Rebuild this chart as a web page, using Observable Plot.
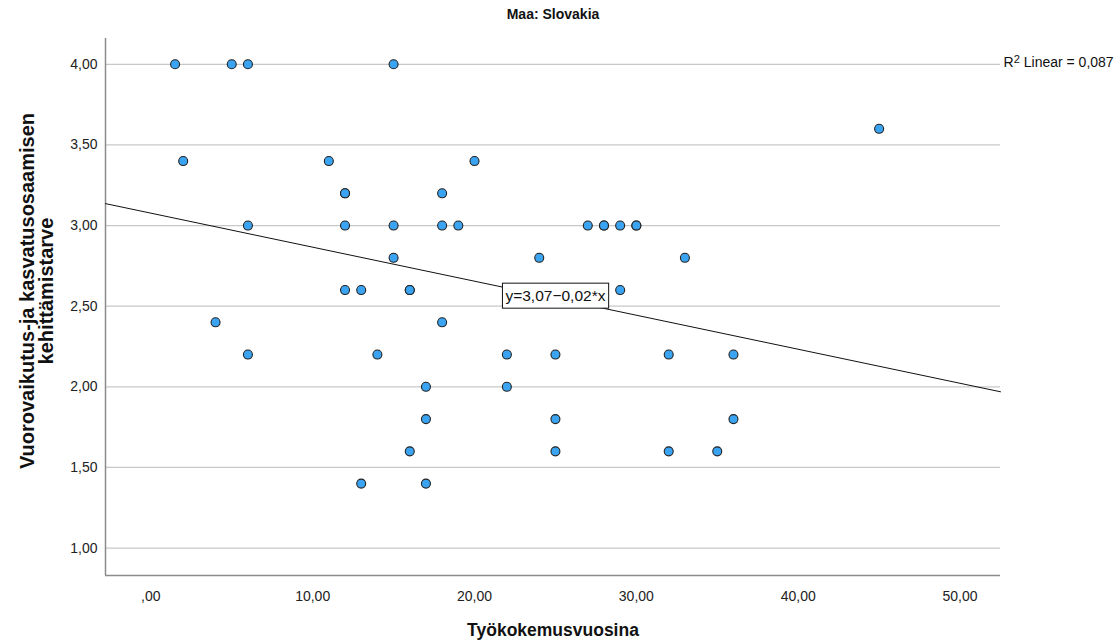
<!DOCTYPE html>
<html>
<head>
<meta charset="utf-8">
<script src="https://cdn.jsdelivr.net/npm/d3@7"></script>
<script src="https://cdn.jsdelivr.net/npm/@observablehq/plot@0.6"></script>
<style>
  html, body { margin: 0; padding: 0; background: #fff; }
</style>
</head>
<body>
<div id="chart"></div>
<script>
// ---- data ----
const experienceYears = [1.5, 5, 6, 15, 45, 2, 11, 20, 12, 12, 18, 6, 12, 15, 18, 19, 27, 28, 28, 29, 30, 30, 15, 24, 33, 12, 13, 16, 16, 29, 4, 18, 6, 14, 22, 25, 32, 36, 17, 22, 17, 25, 36, 16, 25, 32, 35, 13, 17];
const needScores      = [4.0, 4.0, 4.0, 4.0, 3.6, 3.4, 3.4, 3.4, 3.2, 3.2, 3.2, 3.0, 3.0, 3.0, 3.0, 3.0, 3.0, 3.0, 3.0, 3.0, 3.0, 3.0, 2.8, 2.8, 2.8, 2.6, 2.6, 2.6, 2.6, 2.6, 2.4, 2.4, 2.2, 2.2, 2.2, 2.2, 2.2, 2.2, 2.0, 2.0, 1.8, 1.8, 1.8, 1.6, 1.6, 1.6, 1.6, 1.4, 1.4];

const xTicks = [0, 10, 20, 30, 40, 50];
const xTickLabels = [",00", "10,00", "20,00", "30,00", "40,00", "50,00"];
const yTicks = [1, 1.5, 2, 2.5, 3, 3.5, 4];
const yTickLabels = ["1,00", "1,50", "2,00", "2,50", "3,00", "3,50", "4,00"];

const xDomain = [-2.8, 52.5];
const yDomain = [0.83, 4.16];

// fitted line as drawn in the reference
const fitIntercept = 3.077;
const fitSlope = -0.0211;
const fitLabelX = 25;
const fitLabelText = "y=3,07\u22120,02*x";
const r2Text = "R\u00B2 Linear = 0,087";

const titleText = "Maa: Slovakia";
const xTitle = "Työkokemusvuosina";
const yTitle = "Vuorovaikutus-ja kasvatusosaamisen\nkehittämistarve";

// ---- tables built from the arrays ----
const points = experienceYears.map((x, i) => ({x, y: needScores[i]}));
const fitLine = xDomain.map(x => ({x, y: fitIntercept + fitSlope * x}));
const fitLabel = [{x: fitLabelX, y: fitIntercept + fitSlope * fitLabelX, t: fitLabelText}];

const FONT = "'Liberation Sans', Arial, sans-serif";

const chart = Plot.plot({
  width: 1119,
  height: 642,
  marginLeft: 105,
  marginRight: 119,
  marginTop: 38,
  marginBottom: 67,
  style: {fontFamily: FONT, fontSize: "14px", background: "#fff", color: "#222"},
  x: {domain: xDomain, label: null},
  y: {domain: yDomain, label: null},
  marks: [
    Plot.gridY(yTicks, {stroke: "#c8c8c8", strokeOpacity: 1, strokeWidth: 1.3}),
    Plot.axisX(xTicks, {tickSize: 0, tickPadding: 16, fontSize: 14, fill: "#222",
      tickFormat: d => xTickLabels[xTicks.indexOf(d)], label: null}),
    Plot.axisY(yTicks, {tickSize: 0, tickPadding: 8, fontSize: 14, fill: "#222",
      tickFormat: d => yTickLabels[yTicks.indexOf(d)], label: null}),
    Plot.ruleX([xDomain[0]], {stroke: "#8c8c8c", strokeWidth: 1.5}),
    Plot.ruleY([yDomain[0]], {stroke: "#8c8c8c", strokeWidth: 1.5}),
    Plot.line(fitLine, {x: "x", y: "y", stroke: "#111", strokeWidth: 1}),
    Plot.dot(points, {x: "x", y: "y", r: 4.5, fill: "#3aa4f2", stroke: "#222", strokeWidth: 1.1, fillOpacity: 1}),
    Plot.text(fitLabel, {x: "x", y: "y", text: "t", fontSize: 15.5, fill: "#111", lineAnchor: "middle", dy: -2}),
    Plot.text([titleText], {frameAnchor: "top", lineAnchor: "middle", dy: -24, fontSize: 14, fontWeight: "bold", fill: "#111"}),
    Plot.text([r2Text], {frameAnchor: "top-right", textAnchor: "start", lineAnchor: "middle", dx: 3, dy: 24, fontSize: 14, fill: "#111"}),
    Plot.text([xTitle], {frameAnchor: "bottom", lineAnchor: "middle", dy: 55, fontSize: 17.5, fontWeight: "bold", fill: "#111"}),
    Plot.text([yTitle], {frameAnchor: "left", textAnchor: "middle", lineAnchor: "middle", dx: -68, dy: -16, rotate: -90, fontSize: 20, fontWeight: "bold", lineHeight: 0.95, fill: "#111"})
  ]
});

document.getElementById("chart").appendChild(chart);

const SVGNS = "http://www.w3.org/2000/svg";
chart.querySelectorAll("text").forEach(t => {
  // white box with black border behind the fit label
  if (t.textContent === fitLabelText) {
    const b = t.getBBox();
    const rect = document.createElementNS(SVGNS, "rect");
    rect.setAttribute("x", b.x - 3);
    rect.setAttribute("y", b.y - 4);
    rect.setAttribute("width", b.width + 6);
    rect.setAttribute("height", b.height + 8);
    rect.setAttribute("fill", "#fff");
    rect.setAttribute("stroke", "#111");
    rect.setAttribute("stroke-width", "1");
    const tr = t.getAttribute("transform");
    if (tr) rect.setAttribute("transform", tr);
    t.parentNode.insertBefore(rect, t);
  }
  // superscript 2 in the R² label
  if (t.textContent === r2Text) {
    const [head, tail] = r2Text.split("\u00B2");
    t.textContent = "";
    const a = document.createElementNS(SVGNS, "tspan"); a.textContent = head;
    const s = document.createElementNS(SVGNS, "tspan"); s.textContent = "2";
    s.setAttribute("dy", "-0.4em"); s.setAttribute("font-size", "0.8em");
    const c = document.createElementNS(SVGNS, "tspan"); c.textContent = tail;
    c.setAttribute("dy", "0.32em");
    t.appendChild(a); t.appendChild(s); t.appendChild(c);
  }
});
</script>
</body>
</html>
